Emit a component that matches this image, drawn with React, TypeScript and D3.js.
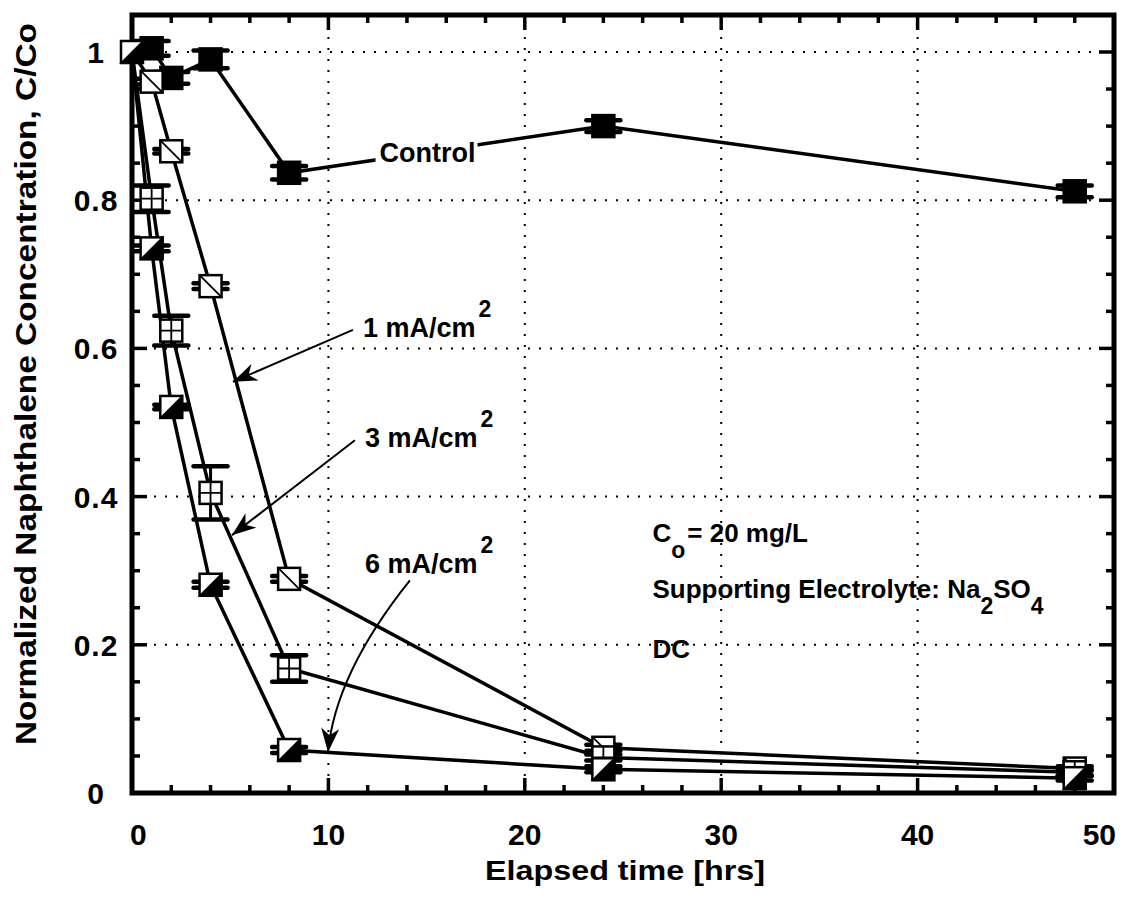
import { useEffect, useRef } from 'react';
import * as d3 from 'd3';

// elapsed time [hrs]
const hours = [0, 1, 2, 4, 8, 24, 48];

// normalized concentration C/Co
const control = [1.0, 1.005, 0.965, 0.99, 0.837, 0.9, 0.812];
const mA1 = [1.0, 0.96, 0.866, 0.684, 0.289, 0.061, 0.033];
const mA3 = [1.0, 0.802, 0.624, 0.405, 0.168, 0.048, 0.028];
const mA6 = [1.0, 0.735, 0.521, 0.281, 0.058, 0.032, 0.02];

// error bar half-widths
const controlErr = [0, 0.01, 0.008, 0.012, 0.009, 0.008, 0.008];
const mA1Err = [0, 0.004, 0.003, 0.004, 0.004, 0.004, 0.003];
const mA3Err = [0, 0.018, 0.02, 0.036, 0.018, 0.004, 0.004];
const mA6Err = [0, 0.004, 0.003, 0.004, 0.004, 0.004, 0.003];

const xTicks = [0, 10, 20, 30, 40, 50];
const yTicks = [0, 0.2, 0.4, 0.6, 0.8, 1];
const yTickLabels = ['0', '0.2', '0.4', '0.6', '0.8', '1'];

type Series = { name: string; values: number[]; err: number[]; marker: string };

const seriesList: Series[] = [
    { name: 'Control', values: control, err: controlErr, marker: 'filled' },
    { name: '1 mA/cm2', values: mA1, err: mA1Err, marker: 'diag' },
    { name: '3 mA/cm2', values: mA3, err: mA3Err, marker: 'grid' },
    { name: '6 mA/cm2', values: mA6, err: mA6Err, marker: 'half' },
];

const FONT = "'Liberation Sans', Arial, Helvetica, sans-serif";

const App = () => {
    const svgRef = useRef<SVGSVGElement | null>(null);

    useEffect(() => {
        if (!svgRef.current) return;
        const svg = d3.select(svgRef.current);
        svg.selectAll('*').remove();

        const width = 1130;
        const margin = { top: 15, right: 16, left: 132 };

        const x = d3.scaleLinear().domain([0, 50]).range([margin.left, width - margin.right]);
        const y = d3.scaleLinear().domain([0, 1]).range([793, 52]);
        const yTop = margin.top;
        const yBot = y(0);

        // arrowhead
        svg.append('defs').append('marker')
            .attr('id', 'arrow')
            .attr('viewBox', '-26 -10 28 20')
            .attr('refX', 0).attr('refY', 0)
            .attr('markerWidth', 28).attr('markerHeight', 20)
            .attr('markerUnits', 'userSpaceOnUse')
            .attr('orient', 'auto')
            .append('path')
            .attr('d', 'M0,0 L-24,-9 L-17,0 L-24,9 Z')
            .attr('fill', '#000');

        // grid
        const grid = svg.append('g')
            .attr('stroke', '#000').attr('stroke-width', 2)
            .attr('stroke-dasharray', '2,9');
        grid.selectAll('line.gx')
            .data(xTicks.slice(1, -1))
            .join('line')
            .attr('x1', d => x(d)).attr('x2', d => x(d))
            .attr('y1', yTop).attr('y2', yBot);
        grid.selectAll('line.gy')
            .data(yTicks.slice(1))
            .join('line')
            .attr('class', 'gy')
            .attr('x1', x(0)).attr('x2', x(50))
            .attr('y1', d => y(d)).attr('y2', d => y(d));

        // ticks (inward, all four sides)
        const ticks = svg.append('g').attr('stroke', '#000').attr('stroke-width', 3.5);
        const xMinor = d3.range(0, 50.01, 2);
        ticks.selectAll('line.xb')
            .data(xMinor)
            .join('line')
            .attr('class', 'xb')
            .attr('x1', d => x(d)).attr('x2', d => x(d))
            .attr('y1', yBot).attr('y2', d => yBot - (d % 10 === 0 ? 15 : 8));
        ticks.selectAll('line.xt')
            .data(xMinor)
            .join('line')
            .attr('class', 'xt')
            .attr('x1', d => x(d)).attr('x2', d => x(d))
            .attr('y1', yTop).attr('y2', d => yTop + (d % 10 === 0 ? 15 : 8));
        const yMinor = d3.range(0, 21).map(i => i * 0.05);
        ticks.selectAll('line.yl')
            .data(yMinor)
            .join('line')
            .attr('class', 'yl')
            .attr('y1', d => y(d)).attr('y2', d => y(d))
            .attr('x1', x(0)).attr('x2', (d, i) => x(0) + (i % 4 === 0 ? 15 : 8));
        ticks.selectAll('line.yr')
            .data(yMinor)
            .join('line')
            .attr('class', 'yr')
            .attr('y1', d => y(d)).attr('y2', d => y(d))
            .attr('x1', x(50)).attr('x2', (d, i) => x(50) - (i % 4 === 0 ? 15 : 8));

        // frame
        svg.append('rect')
            .attr('x', x(0)).attr('y', yTop)
            .attr('width', x(50) - x(0)).attr('height', yBot - yTop)
            .attr('fill', 'none').attr('stroke', '#000').attr('stroke-width', 5);

        // tick labels
        svg.append('g')
            .attr('font-family', FONT).attr('font-weight', 'bold').attr('font-size', 30)
            .selectAll('text')
            .data(xTicks)
            .join('text')
            .attr('x', d => x(d))
            .attr('y', 845)
            .attr('text-anchor', (d, i) => i === 0 ? 'start' : i === xTicks.length - 1 ? 'end' : 'middle')
            .attr('dx', (d, i) => i === 0 ? -2 : i === xTicks.length - 1 ? 2 : 0)
            .text(d => d);

        svg.append('g')
            .attr('font-family', FONT).attr('font-weight', 'bold').attr('font-size', 30)
            .selectAll('text')
            .data(yTicks)
            .join('text')
            .attr('x', 96)
            .attr('y', d => y(d) + 11)
            .attr('text-anchor', 'middle')
            .attr('letter-spacing', 1)
            .text((d, i) => yTickLabels[i]);

        // axis titles
        svg.append('text')
            .attr('font-family', FONT).attr('font-weight', 'bold').attr('font-size', 28)
            .attr('x', 625).attr('y', 880)
            .attr('text-anchor', 'middle')
            .attr('textLength', 280).attr('lengthAdjust', 'spacingAndGlyphs')
            .text('Elapsed time [hrs]');

        svg.append('text')
            .attr('font-family', FONT).attr('font-weight', 'bold').attr('font-size', 30)
            .attr('transform', 'translate(36,384) rotate(-90)')
            .attr('text-anchor', 'middle')
            .attr('textLength', 722).attr('lengthAdjust', 'spacingAndGlyphs')
            .text('Normalized Naphthalene Concentration, C/Co');

        // lines
        const line = d3.line<number>()
            .x((d, i) => x(hours[i]))
            .y(d => y(d));
        svg.append('g')
            .selectAll('path')
            .data(seriesList)
            .join('path')
            .attr('d', s => line(s.values))
            .attr('fill', 'none')
            .attr('stroke', '#000')
            .attr('stroke-width', 3.5);

        // "Control" label sits on top of the control line
        const ctrl = svg.append('g').attr('font-family', FONT).attr('font-weight', 'bold');
        ctrl.append('rect')
            .attr('x', x(12.4)).attr('y', y(0.852) - 24)
            .attr('width', 102).attr('height', 30)
            .attr('fill', '#fff');
        ctrl.append('text')
            .attr('x', x(12.6)).attr('y', y(0.852))
            .attr('font-size', 27)
            .text('Control');

        // error bars and markers
        const half = 11;
        const capW = 17;
        seriesList.forEach(s => {
            const g = svg.append('g');
            const pts = s.values.map((v, i) => ({ x: x(hours[i]), y: y(v), lo: y(v - s.err[i]), hi: y(v + s.err[i]), e: s.err[i] }))
                .filter((p, i) => s.name === '6 mA/cm2' || i > 0);
            const eb = g.append('g').attr('stroke', '#000');
            eb.selectAll('line.v')
                .data(pts)
                .join('line')
                .attr('class', 'v')
                .attr('x1', p => p.x).attr('x2', p => p.x)
                .attr('y1', p => p.lo).attr('y2', p => p.hi)
                .attr('stroke-width', 3);
            eb.selectAll('line.cl')
                .data(pts.filter(p => p.e > 0))
                .join('line')
                .attr('class', 'cl')
                .attr('x1', p => p.x - capW).attr('x2', p => p.x + capW)
                .attr('y1', p => p.lo).attr('y2', p => p.lo)
                .attr('stroke-width', 4.5)
                .attr('stroke-linecap', 'round');
            eb.selectAll('line.ch')
                .data(pts.filter(p => p.e > 0))
                .join('line')
                .attr('class', 'ch')
                .attr('x1', p => p.x - capW).attr('x2', p => p.x + capW)
                .attr('y1', p => p.hi).attr('y2', p => p.hi)
                .attr('stroke-width', 4.5)
                .attr('stroke-linecap', 'round');

            const m = g.selectAll('g.m')
                .data(pts)
                .join('g')
                .attr('transform', p => `translate(${p.x},${p.y})`);
            m.append('rect')
                .attr('x', -half).attr('y', -half)
                .attr('width', 2 * half).attr('height', 2 * half)
                .attr('fill', s.marker === 'filled' ? '#000' : '#fff')
                .attr('stroke', '#000').attr('stroke-width', 2.5);
            if (s.marker === 'diag') {
                m.append('line')
                    .attr('x1', -half).attr('y1', -half).attr('x2', half).attr('y2', half)
                    .attr('stroke', '#000').attr('stroke-width', 1.8);
            } else if (s.marker === 'grid') {
                m.append('path')
                    .attr('d', `M0,${-half}V${half}M${-half},0H${half}`)
                    .attr('stroke', '#000').attr('stroke-width', 1.8);
            } else if (s.marker === 'half') {
                m.append('path')
                    .attr('d', `M${-half},${half}L${half},${-half}L${half},${half}Z`)
                    .attr('fill', '#000').attr('stroke', '#000').attr('stroke-width', 1.5);
            }
        });

        // current density annotations
        const ann = svg.append('g').attr('font-family', FONT).attr('font-weight', 'bold');
        const arrowLines = [
            { from: [11.25, 0.625], to: [5.14, 0.555] },
            { from: [11.35, 0.476], to: [5.09, 0.348] },
        ];
        ann.selectAll('line.arr')
            .data(arrowLines)
            .join('line')
            .attr('x1', d => x(d.from[0])).attr('y1', d => y(d.from[1]))
            .attr('x2', d => x(d.to[0])).attr('y2', d => y(d.to[1]))
            .attr('stroke', '#000').attr('stroke-width', 2)
            .attr('marker-end', 'url(#arrow)');
        const curve = d3.path();
        curve.moveTo(x(14.15), y(0.287));
        curve.quadraticCurveTo(x(10.34), y(0.161), x(9.98), y(0.055));
        ann.append('path')
            .attr('d', curve.toString())
            .attr('fill', 'none')
            .attr('stroke', '#000').attr('stroke-width', 2)
            .attr('marker-end', 'url(#arrow)');

        const labels = [
            { text: '1 mA/cm', at: [11.76, 0.615] },
            { text: '3 mA/cm', at: [11.86, 0.467] },
            { text: '6 mA/cm', at: [11.86, 0.297] },
        ];
        labels.forEach(l => {
            const t = ann.append('text')
                .attr('x', x(l.at[0])).attr('y', y(l.at[1]))
                .attr('font-size', 27);
            t.append('tspan').text(l.text);
            t.append('tspan').attr('dx', 3).attr('dy', -20).attr('font-size', 23).text('2');
        });

        // conditions
        const info = svg.append('g')
            .attr('font-family', FONT).attr('font-weight', 'bold').attr('font-size', 26);
        const t1 = info.append('text').attr('x', x(26.5)).attr('y', y(0.339));
        t1.append('tspan').text('C');
        t1.append('tspan').attr('dy', 16).attr('font-size', 23).text('o');
        t1.append('tspan').attr('dy', -16).attr('dx', 2).text('= 20 mg/L');

        const t2 = info.append('text').attr('x', x(26.5)).attr('y', y(0.263));
        t2.append('tspan').text('Supporting Electrolyte: Na');
        t2.append('tspan').attr('dy', 16).attr('font-size', 23).text('2');
        t2.append('tspan').attr('dy', -16).text('SO');
        t2.append('tspan').attr('dy', 16).attr('font-size', 23).text('4');

        info.append('text').attr('x', x(26.5)).attr('y', y(0.182)).text('DC');
    }, []);

    return (
        <svg
            ref={svgRef}
            width={1130}
            height={899}
            style={{ position: 'absolute', left: 0, top: 0, background: '#fff' }}
        />
    );
};

export default App;
